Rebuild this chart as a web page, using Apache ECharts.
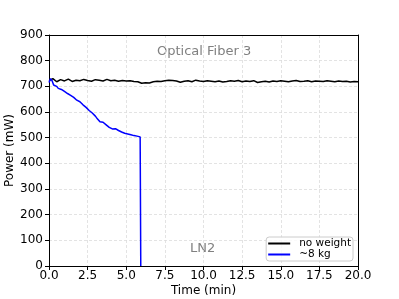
<!DOCTYPE html>
<html><head><meta charset="utf-8">
<script src="https://cdn.jsdelivr.net/npm/echarts@6/dist/echarts.min.js"></script>
<style>html,body{margin:0;padding:0;background:#fff}#c{width:399px;height:299px}</style>
</head><body><div id="c"></div>
<script>
// Time axis (min) for each series
var blueTimes = [0.0,0.1,0.2,0.3,0.4,0.5,0.6,0.7,0.8,0.9,1.0,1.1,1.2,1.3,1.4,1.5,1.6,1.7,1.8,1.9,2.0,2.1,2.2,2.3,2.4,2.5,2.6,2.7,2.8,2.9,3.0,3.1,3.2,3.3,3.4,3.5,3.6,3.7,3.8,3.9,4.0,4.1,4.2,4.3,4.4,4.5,4.6,4.7,4.8,4.9,5.0,5.1,5.2,5.3,5.4,5.5,5.6,5.7,5.8,5.9,5.93,5.94];
var blueValues = [715,730,722,705,698,700,692,694,688,684,680,678,672,670,665,660,657,652,646,648,640,636,628,622,618,612,606,600,596,590,584,576,570,562,558,560,557,550,544,540,538,534,533,535,530,528,527,522,520,517,516,514,512,511,509,508,507,506,504,503,501,0];
var blackTimes = [0.0,0.25,0.5,0.75,1.0,1.25,1.5,1.75,2.0,2.25,2.5,2.75,3.0,3.25,3.5,3.75,4.0,4.25,4.5,4.75,5.0,5.25,5.5,5.75,6.0,6.25,6.5,6.75,7.0,7.25,7.5,7.75,8.0,8.25,8.5,8.75,9.0,9.25,9.5,9.75,10.0,10.25,10.5,10.75,11.0,11.25,11.5,11.75,12.0,12.25,12.5,12.75,13.0,13.25,13.5,13.75,14.0,14.25,14.5,14.75,15.0,15.25,15.5,15.75,16.0,16.25,16.5,16.75,17.0,17.25,17.5,17.75,18.0,18.25,18.5,18.75,19.0,19.25,19.5,19.75,20.0];
var blackValues = [722,730,718,726,721,728,719,724,722,727,723,720,726,724,721,727,722,724,720,723,721,722,719,718,712,714,713,718,720,719,722,724,723,721,716,720,722,718,724,721,719,722,720,718,721,717,719,722,720,723,718,721,719,722,715,718,720,717,721,719,722,720,718,721,723,719,720,722,718,721,720,719,722,720,718,721,719,720,717,719,718];
var xTicks = ['0.0','2.5','5.0','7.5','10.0','12.5','15.0','17.5','20.0'];
var yTicks = [0,100,200,300,400,500,600,700,800,900];
var seriesNames = ['no weight','~8 kg'];

function pairs(t, v){ return t.map(function(x,i){return [x, v[i]];}); }

var font = 'DejaVu Sans';
var frameAxis = {
  show: true, axisLine: {show: true, onZero: false, lineStyle: {color: '#000', width: 1}},
  axisTick: {show: false}, axisLabel: {show: false}, splitLine: {show: false}
};
var chart = echarts.init(document.getElementById('c'));
chart.setOption({
  animation: false,
  backgroundColor: '#fff',
  grid: {left: 49, right: 41, top: 35, bottom: 33, containLabel: false, outerBoundsMode: 'none'},
  xAxis: [{
    type: 'value', min: 0, max: 20, interval: 2.5, position: 'bottom',
    name: 'Time (min)', nameLocation: 'middle', nameGap: 19, nameMoveOverlap: false,
    nameTextStyle: {fontFamily: font, fontSize: 12, color: '#000'},
    axisLine: {show: true, onZero: false, lineStyle: {color: '#000', width: 1}},
    axisTick: {show: true, inside: false, length: 4, lineStyle: {color: '#000'}},
    axisLabel: {fontFamily: font, fontSize: 12, color: '#000', margin: 4,
      formatter: function(v){ return xTicks[Math.round(v/2.5)]; }},
    splitLine: {show: true, lineStyle: {color: '#dcdcdc', type: [3,2], width: 0.8}}
  }, Object.assign({type: 'value', min: 0, max: 20, position: 'top'}, frameAxis)],
  yAxis: [{
    type: 'value', min: 0, max: 900, interval: 100, position: 'left',
    name: 'Power (mW)', nameLocation: 'middle', nameGap: 33, nameMoveOverlap: false,
    nameTextStyle: {fontFamily: font, fontSize: 12, color: '#000'},
    axisLine: {show: true, onZero: false, lineStyle: {color: '#000', width: 1}},
    axisTick: {show: true, inside: false, length: 4, lineStyle: {color: '#000'}},
    axisLabel: {fontFamily: font, fontSize: 12, color: '#000', margin: 6,
      formatter: function(v){ return String(yTicks[Math.round(v/100)]); }},
    splitLine: {show: true, lineStyle: {color: '#dcdcdc', type: [3,2], width: 0.8}}
  }, Object.assign({type: 'value', min: 0, max: 900, position: 'right'}, frameAxis)],
  legend: {
    orient: 'vertical', right: 46, bottom: 38,
    data: seriesNames,
    icon: 'rect', itemWidth: 22, itemHeight: 2, itemGap: 0,
    padding: [1, 2, 1, 2],
    borderColor: '#ccc', borderWidth: 1, borderRadius: 3,
    backgroundColor: 'rgba(255,255,255,0.8)',
    textStyle: {fontFamily: font, fontSize: 10.5, lineHeight: 11, color: '#000', padding: [0,0,0,4]}
  },
  graphic: [
    {type: 'text', left: 157, top: 45, style: {text: 'Optical Fiber 3', fontFamily: font, fontSize: 13, fill: '#808080'}},
    {type: 'text', left: 190, top: 242, style: {text: 'LN2', fontFamily: font, fontSize: 13, fill: '#808080'}}
  ],
  series: [
    {name: seriesNames[0], type: 'line', data: pairs(blackTimes, blackValues), showSymbol: false,
      lineStyle: {color: '#000', width: 1.5}, itemStyle: {color: '#000'}, z: 3},
    {name: seriesNames[1], type: 'line', data: pairs(blueTimes, blueValues), showSymbol: false,
      lineStyle: {color: '#0000ff', width: 1.5}, itemStyle: {color: '#0000ff'}, z: 4}
  ]
});
</script></body></html>
